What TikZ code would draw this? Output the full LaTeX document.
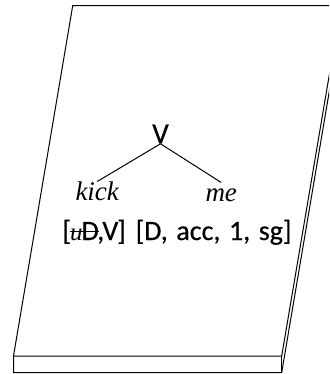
\documentclass[tikz,border=0pt]{standalone}
\usepackage{fontspec}
\setmainfont{Liberation Serif}
\setsansfont{Carlito}[FakeBold=0.5]
\newsavebox\strikebox
\newcommand{\strikeout}[1]{\sbox\strikebox{#1}\rlap{\usebox\strikebox}\rule[0.27em]{\wd\strikebox}{1.6pt}}

\begin{document}
\begin{tikzpicture}[x=1pt,y=-1pt,line width=1pt]

      \useasboundingbox (0,0) rectangle (329,374);
      \clip (0,0) rectangle (329,374);

      % the slab
      \draw (72.7,5.7) -- (341,5.7) -- (281.7,356) -- (13.5,356) -- cycle;
      \draw (13.5,356) -- (13.5,372.5) -- (281.7,372.5) -- (341,22.2);
      \draw (281.7,356) -- (281.7,372.5);

      \begin{scope}[every node/.style={inner sep=0pt}]
        \node[font=\sffamily\fontsize{29}{32}\selectfont,anchor=base] (V) at (160.5,143.3) {V};
        \node[font=\itshape\fontsize{27}{30}\selectfont,text height=18pt,anchor=base west] (kick) at (75,200) {kick};
        \node[font=\itshape\fontsize{27}{30}\selectfont,text height=18pt,anchor=base west] (me) at (205,201) {me};
        \node[font=\sffamily\fontsize{28}{32}\selectfont,anchor=base west] (kickfeat) at (62,240)
          {[\kern-1pt\strikeout{{\rmfamily\itshape\fontsize{25}{27}\selectfont u}\kern-1pt D}\kern-1.5pt,V\kern-1pt]};
        \node[font=\sffamily\fontsize{28}{32}\selectfont,anchor=base east] (mefeat) at (292,240)
          {\spaceskip=8.6pt\relax [D, acc, 1, sg]};
      \end{scope}

      \path (V.south) edge[draw] (kick.north);
      \path (V.south) edge[draw] (me.north);

    \end{tikzpicture}
\end{document}
